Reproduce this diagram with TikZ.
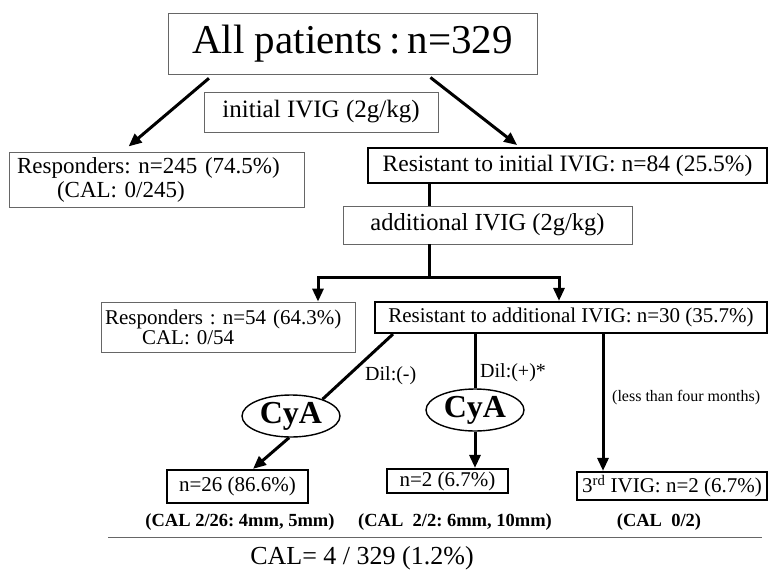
\documentclass[tikz,border=0pt]{standalone}
\usepackage{fontspec}
\setmainfont{Liberation Serif}
\usetikzlibrary{shapes.geometric,arrows.meta}

\newcommand\fsz[1]{\fontsize{#1}{#1}\selectfont}
\frenchspacing

\begin{document}
\begin{tikzpicture}[x=1pt,y=-1pt]
    \tikzstyle{graybox} = [draw=black!60, line width=0.8pt, inner sep=0pt]
    \tikzstyle{boldbox} = [draw=black, line width=2.2pt, inner sep=0pt]
    \tikzstyle{cya} = [ellipse, draw, line width=1.4pt, minimum width=98, minimum height=42, inner sep=0pt, font=\fsz{32}\bfseries]
    \tikzstyle{link} = [line width=3pt]
    \tikzstyle{arr} = [line width=3pt, -{Triangle[length=13pt,width=11pt]}]
    \tikzstyle{note} = [inner sep=0pt, anchor=west]
    \tikzstyle{calnote} = [inner sep=0pt, font=\fsz{18.5}\bfseries]

    \useasboundingbox (0,0) rectangle (769,571);

    \node[graybox, minimum width=369, minimum height=61, font=\fsz{41}] (all) at (352.5,43.5) {All patients\,:\,n=329};
    \node[graybox, minimum width=234, minimum height=40, font=\fsz{25}] (ivig1) at (321,112) {initial IVIG (2g/kg)};
    \node[graybox, text width=279, inner xsep=8, minimum height=55, align=left, font=\fontsize{23}{24}\selectfont] (resp1) at (156.5,179.5) {Responders: n=245 (74.5\%)\\\hspace*{40pt}(CAL: 0/245)};
    \node[boldbox, minimum width=399, minimum height=35, font=\fsz{23.5}] (res1) at (567.5,165.5) {Resistant to initial IVIG: n=84 (25.5\%)};
    \node[graybox, minimum width=289, minimum height=38, font=\fsz{24.5}] (ivig2) at (487.5,225) {additional IVIG (2g/kg)};
    \node[graybox, text width=246, inner xsep=4, minimum height=50, align=left, font=\fontsize{21}{20}\selectfont] (resp2) at (228,327) {Responders : n=54 (64.3\%)\\\hspace*{37pt}CAL: 0/54};
    \node[boldbox, minimum width=392, minimum height=31, font=\fsz{21}] (res2) at (571,317.5) {Resistant to additional IVIG: n=30 (35.7\%)};

    \node[cya] (cya1) at (291,416) {CyA};
    \node[cya] (cya2) at (475,410) {CyA};

    \node[boldbox, minimum width=141, minimum height=33, font=\fsz{21}] (grp1) at (237.5,486.5) {n=26 (86.6\%)};
    \node[boldbox, minimum width=121, minimum height=24, font=\fsz{21}] (grp2) at (447.5,481) {n=2 (6.7\%)};
    \node[boldbox, minimum width=190, minimum height=28, font=\fsz{21}] (grp3) at (672,486) {3\textsuperscript{rd} IVIG: n=2 (6.7\%)};

    \node[note, font=\fsz{20}] (dil1) at (365,376) {Dil:(-)};
    \node[note, font=\fsz{20}] (dil2) at (480,373) {Dil:(+)*};
    \node[note, font=\fsz{16}] (less) at (612,398) {(less than four months)};

    \node[calnote] (cal1) at (240,522) {(CAL 2/26: 4mm, 5mm)};
    \node[calnote] (cal2) at (455,522) {(CAL\ \ 2/2: 6mm, 10mm)};
    \node[calnote] (cal3) at (659,522) {(CAL\ \ 0/2)};
    \draw[black!60, line width=0.8pt] (108,537) -- (762,537);
    \node[inner sep=0pt, font=\fsz{26}] (total) at (362,558) {CAL= 4 / 329 (1.2\%)};

    \draw[arr, shorten <=6pt, shorten >=8pt] ([xshift=-139]all.south) -- ([xshift=-34]resp1.north);
    \draw[arr, shorten <=5pt, shorten >=3pt] ([xshift=74]all.south) -- ([xshift=-48]res1.north);
    \draw[link] ([xshift=-138.5]res1.south) -- ([xshift=-58.5]ivig2.north);
    \draw[link] ([xshift=-58.5]ivig2.south) -- ++(0,33) coordinate (fork);
    \draw[arr] (fork) -| ([xshift=90]resp2.north);
    \draw[arr] (fork) -| ([xshift=-12]res2.north);
    \draw[link] ([xshift=-178]res2.south) -- (cya1.28);
    \draw[arr] (cya1.-95) -- ([xshift=15.5]grp1.north);
    \draw[link] (res2.south -| cya2.north) -- (cya2.north);
    \draw[arr] (cya2.south) -- (cya2.south |- grp2.north);
    \draw[arr] ([xshift=32]res2.south) -- ([xshift=-69]grp3.north);
\end{tikzpicture}
\end{document}
